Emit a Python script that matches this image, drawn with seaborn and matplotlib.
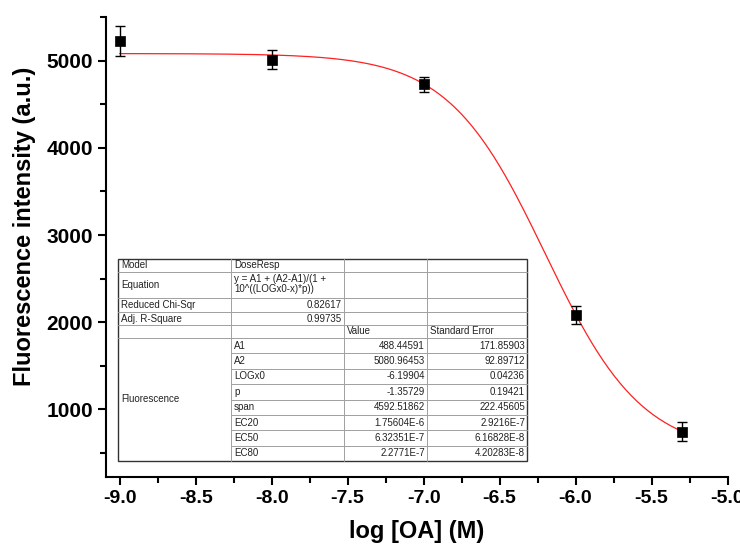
import numpy as np
import pandas as pd
import matplotlib
matplotlib.use("Agg")
import matplotlib.pyplot as plt
import seaborn as sns
from matplotlib.ticker import MultipleLocator
from matplotlib.lines import Line2D
from matplotlib.patches import Rectangle

# ---- data ----
log_oa = [-9.0, -8.0, -7.0, -6.0, -5.3]
fluor = [5225, 5010, 4730, 2085, 745]
fluor_err = [175, 110, 85, 105, 110]

# Dose-response fit parameters (from table)
A1 = 488.44591
A2 = 5080.96453
LOGx0 = -6.19904
p = -1.35729

table_rows = [
    ["Model", "DoseResp", "", ""],
    ["Equation", "y = A1 + (A2-A1)/(1 +\n10^((LOGx0-x)*p))", "", ""],
    ["Reduced Chi-Sqr", "0.82617", "", ""],
    ["Adj. R-Square", "0.99735", "", ""],
    ["", "", "Value", "Standard Error"],
]
param_names = ["A1", "A2", "LOGx0", "p", "span", "EC20", "EC50", "EC80"]
param_values = ["488.44591", "5080.96453", "-6.19904", "-1.35729", "4592.51862",
                "1.75604E-6", "6.32351E-7", "2.2771E-7"]
param_errors = ["171.85903", "92.89712", "0.04236", "0.19421", "222.45605",
                "2.9216E-7", "6.16828E-8", "4.20283E-8"]

sns.set_theme(style="ticks")
plt.rcParams['font.family'] = ['Liberation Sans', 'DejaVu Sans']
plt.rcParams['text.color'] = 'black'
plt.rcParams['axes.labelcolor'] = 'black'

fig = plt.figure(figsize=(7.4, 5.49), dpi=100)
ax = fig.add_axes([106/740, 1-477/549, (727.5-106)/740, (477-17)/549])

# fitted curve
xs = np.linspace(log_oa[0], log_oa[-1], 300)
ys = A1 + (A2 - A1) / (1 + 10 ** ((LOGx0 - xs) * p))
curve = pd.DataFrame({"x": xs, "y": ys})
sns.lineplot(data=curve, x="x", y="y", ax=ax, color="#ff2020", linewidth=0.9, zorder=2)

pts = pd.DataFrame({"x": log_oa, "y": fluor, "e": fluor_err})
ax.errorbar(pts["x"], pts["y"], yerr=pts["e"], fmt="none", ecolor="black",
            elinewidth=1.0, capsize=3.5, capthick=1.0, zorder=3)
sns.scatterplot(data=pts, x="x", y="y", ax=ax, marker="s", s=60, color="black",
                edgecolor="black", linewidth=0.5, zorder=4)

ax.set_xlim(-9.09, -5.0)
ax.set_ylim(225, 5500)
ax.xaxis.set_major_locator(MultipleLocator(0.5))
ax.xaxis.set_minor_locator(MultipleLocator(0.25))
ax.yaxis.set_minor_locator(MultipleLocator(500))
ax.set_yticks([1000, 2000, 3000, 4000, 5000])
ax.xaxis.set_major_formatter(matplotlib.ticker.FormatStrFormatter("%.1f"))

for s in ["top", "right"]:
    ax.spines[s].set_visible(False)
for s in ["left", "bottom"]:
    ax.spines[s].set_linewidth(1.5)
    ax.spines[s].set_color("black")
ax.tick_params(which="major", direction="out", length=6, width=1.5, labelsize=14,
               colors="black", labelcolor="black")
ax.tick_params(which="minor", direction="out", length=4, width=1.5, colors="black")
for lab in ax.get_yticklabels():
    lab.set_fontweight("bold")
    lab.set_family(['Liberation Sans Narrow', 'Liberation Sans', 'DejaVu Sans'])
    lab.set_fontsize(15)
for lab in ax.get_xticklabels():
    lab.set_fontweight("bold")
    lab.set_family(['Liberation Sans Narrow', 'Liberation Sans', 'DejaVu Sans'])
    lab.set_fontsize(14)

ax.set_xlabel("log [OA] (M)", fontsize=17, fontweight="bold", labelpad=9, color="black")
ax.set_ylabel("Fluorescence intensity (a.u.)", fontsize=17, fontweight="bold", color="black")
ax.yaxis.set_label_coords(-(106 - 36) / (727.5 - 106), (477 - 226) / 460)

# ---- table (figure pixel coordinates) ----
W, H = 740, 549
def fx(px): return px / W
def fy(py): return 1 - py / H

col_x = [118, 231, 344, 427, 527]
row_y = [259, 272, 298, 312, 325, 338]
for i in range(8):
    row_y.append(338 + (461 - 338) * (i + 1) / 8)

fig.add_artist(Rectangle((fx(col_x[0]), fy(row_y[-1])), fx(col_x[-1]) - fx(col_x[0]),
                         fy(row_y[0]) - fy(row_y[-1]), transform=fig.transFigure,
                         facecolor="white", edgecolor="#333333", linewidth=1.0, zorder=5))
lc = "#a0a0a0"
for j, yy in enumerate(row_y[1:-1], start=1):
    x0 = col_x[1] if j > 5 else col_x[0]
    fig.add_artist(Line2D([fx(x0), fx(col_x[-1])], [fy(yy), fy(yy)],
                          transform=fig.transFigure, color=lc, linewidth=0.7, zorder=6))
for c in col_x[1:-1]:
    fig.add_artist(Line2D([fx(c), fx(c)], [fy(row_y[0]), fy(row_y[-1])],
                          transform=fig.transFigure, color=lc, linewidth=0.7, zorder=6))

fs = 7
tc = "#222222"
for r, row in enumerate(table_rows):
    y_top, y_bot = row_y[r], row_y[r + 1]
    for c, txt in enumerate(row):
        if not txt:
            continue
        if r == 1 and c == 1:
            fig.text(fx(col_x[c] + 3), fy(y_top + 1.5), txt,
                     fontsize=fs, color=tc, ha="left", va="top", zorder=7, linespacing=1.0)
            continue
        ym = fy((y_top + y_bot) / 2)
        if r in (2, 3) and c == 1:
            fig.text(fx(col_x[c + 1] - 2), ym, txt, fontsize=fs, color=tc,
                     ha="right", va="center", zorder=7)
        else:
            fig.text(fx(col_x[c] + 3), ym, txt, fontsize=fs, color=tc,
                     ha="left", va="center", zorder=7)

for i in range(8):
    y_top, y_bot = row_y[5 + i], row_y[6 + i]
    ym = fy((y_top + y_bot) / 2)
    fig.text(fx(col_x[1] + 3), ym, param_names[i], fontsize=fs, color=tc, ha="left", va="center", zorder=7)
    fig.text(fx(col_x[3] - 2), ym, param_values[i], fontsize=fs, color=tc, ha="right", va="center", zorder=7)
    fig.text(fx(col_x[4] - 2), ym, param_errors[i], fontsize=fs, color=tc, ha="right", va="center", zorder=7)
fig.text(fx(col_x[0] + 3), fy((row_y[5] + row_y[-1]) / 2), "Fluorescence", fontsize=fs,
         color=tc, ha="left", va="center", zorder=7)

fig.savefig("out.png", dpi=100)
